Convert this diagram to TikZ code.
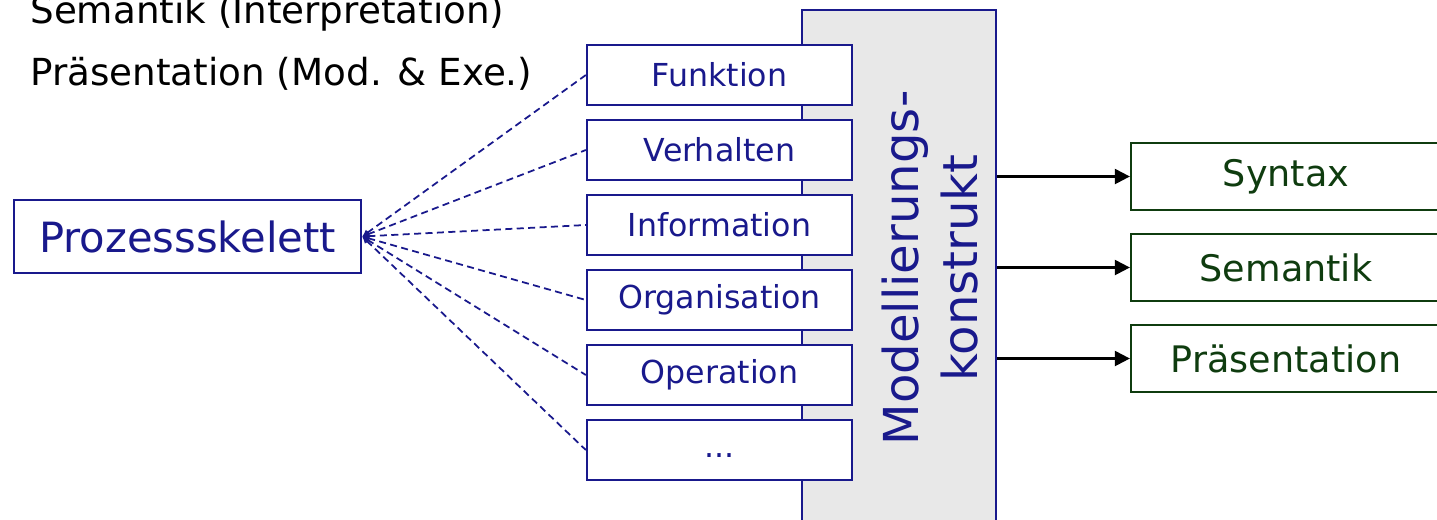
\documentclass[tikz,border=0pt]{standalone}
\usepackage{fontspec}
\setmainfont{DejaVu Sans}
\usetikzlibrary{arrows.meta}

\definecolor{blockblue}{RGB}{25,25,140}
\definecolor{blockgreen}{RGB}{15,60,15}
\definecolor{constgray}{RGB}{232,232,232}

\tikzstyle{block} = [rectangle, draw=blockblue, fill=white, line width=1.3pt, text=blockblue, minimum width=5.3cm, minimum height=1.2cm, inner sep=0pt, font=\fontsize{18}{21}\selectfont]
\tikzstyle{skel} = [rectangle, draw=blockblue, fill=white, line width=1.3pt, text=blockblue, minimum width=6.94cm, minimum height=1.46cm, inner sep=0pt, font=\fontsize{23.7}{28}\selectfont]
\tikzstyle{construct} = [rectangle, draw=blockblue, fill=constgray, line width=1.3pt, minimum width=3.88cm, minimum height=11cm]
\tikzstyle{constructtext} = [rotate=90, align=center, text=blockblue, inner sep=0pt, font=\fontsize{27.4}{33.6}\selectfont]
\tikzstyle{target} = [rectangle, draw=blockgreen, line width=1.3pt, text=blockgreen, minimum width=6.2cm, minimum height=1.34cm, inner sep=0pt, font=\fontsize{20.8}{24}\selectfont]
\tikzstyle{note} = [anchor=base west, inner sep=0pt, font=\fontsize{21.2}{25}\selectfont]
\tikzstyle{link} = [draw=blockblue, dash pattern=on 4pt off 2.5pt, line width=1pt, {Latex[length=1.4mm,width=1.4mm]}-]
\tikzstyle{feed} = [draw=black, line width=1.3pt, -{Triangle[length=0.3cm,width=0.3cm]}]

\begin{document}
\begin{tikzpicture}[node distance = 1.5cm, auto]

\useasboundingbox (0,0) rectangle (28.74,-10.38);
\clip (0,0) rectangle (28.74,-10.38);

\node [note] (lsem) at (0.6,-0.46) {Semantik (Interpretation)};

\node [note] (lpra) at (0.6,-1.7) {Präsentation (Mod. \& Exe.)};

\node [construct] (mod) at (17.98,-5.7) {};

\node [constructtext] (modtxt) at (18.6,-5.36) {Modellierungs-\\konstrukt};

\node [block] (fkt) at (14.39,-1.5) {Funktion};

\node [block, below of=fkt] (ver) {Verhalten};

\node [block, below of=ver] (inf) {Information};

\node [block, below of=inf] (org) {Organisation};

\node [block, below of=org] (ope) {Operation};

\node [block, below of=ope] (etc) {\strut...};

\node [skel] (proz) at (3.75,-4.73) {Prozessskelett};

\node [target] (syn) at (25.72,-3.53) {Syntax};

\node [target, node distance=1.82cm, below of=syn] (sem) {Semantik};

\node [target, node distance=1.82cm, below of=sem] (pra) {Präsentation};

\draw [link] (proz.east) -- (fkt.west);

\draw [link] (proz.east) -- (ver.west);

\draw [link] (proz.east) -- (inf.west);

\draw [link] (proz.east) -- (org.west);

\draw [link] (proz.east) -- (ope.west);

\draw [link] (proz.east) -- (etc.west);

\draw [feed] (mod.east |- syn.west) -- (syn.west);

\draw [feed] (mod.east |- sem.west) -- (sem.west);

\draw [feed] (mod.east |- pra.west) -- (pra.west);

\end{tikzpicture}
\end{document}
